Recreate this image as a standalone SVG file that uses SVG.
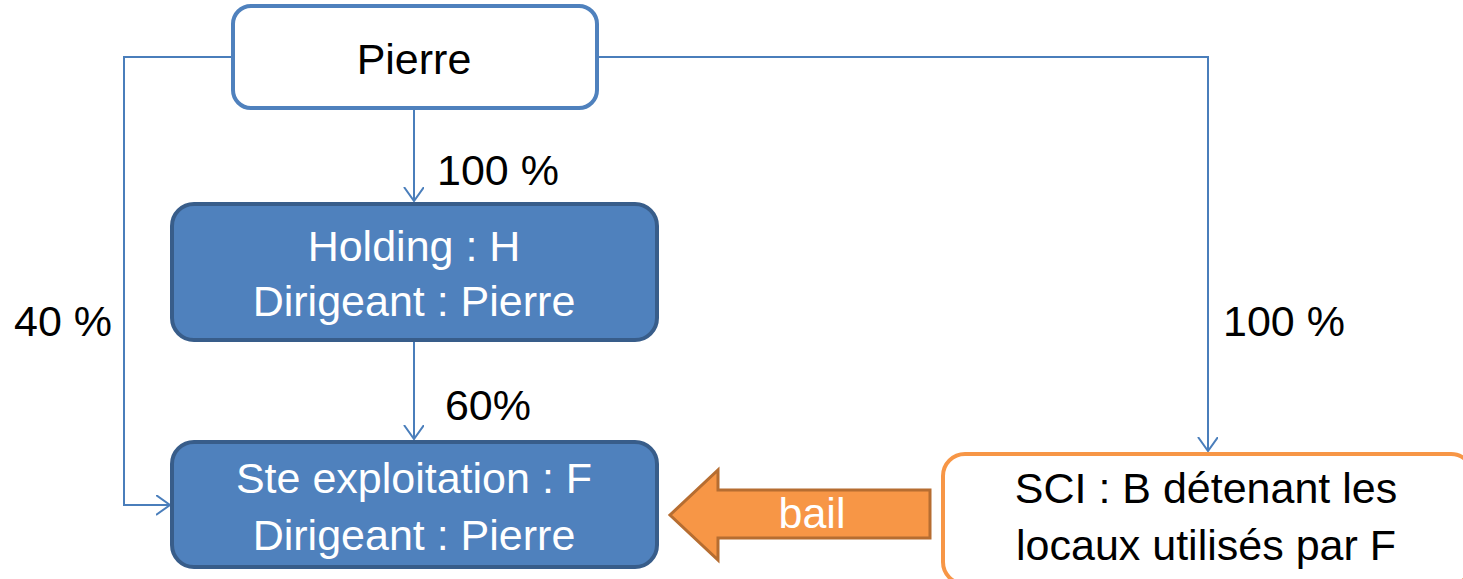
<svg xmlns="http://www.w3.org/2000/svg" width="1463" height="579" viewBox="0 0 1463 579">
<style>
text{font-family:"Liberation Sans",Arial,sans-serif;font-size:43px;text-anchor:middle}
.conn{fill:none;stroke:#4A7EBB;stroke-width:2}
.blue{fill:#4F81BD;stroke:#385D8A;stroke-width:4}
.white{fill:#FFFFFF;stroke:#4F81BD;stroke-width:4}
.orange{fill:#FFFFFF;stroke:#F79646;stroke-width:4}
.lbl{fill:#000000}
.wt{fill:#FFFFFF}
</style>
<defs>
<marker id="arr" markerUnits="userSpaceOnUse" markerWidth="24" markerHeight="24" refX="14" refY="10" orient="auto" viewBox="0 0 24 24">
<path d="M0,0 L14,10 L0,20" fill="none" stroke="#4A7EBB" stroke-width="2"/>
</marker>
</defs>
<rect width="1463" height="579" fill="#FFFFFF"/>
<g id="connectors">
<path class="conn" d="M233,57 H124 V505 H170" marker-end="url(#arr)"/>
<path class="conn" d="M414,108 V201" marker-end="url(#arr)"/>
<path class="conn" d="M414,340 V439" marker-end="url(#arr)"/>
<path class="conn" d="M597,57 H1208 V451" marker-end="url(#arr)"/>
<text class="lbl" x="498" y="185">100 %</text>
<text class="lbl" x="488" y="420">60%</text>
<text class="lbl" x="63" y="336">40 %</text>
<text class="lbl" x="1284" y="336">100 %</text>
</g>
<g id="pierre">
<rect class="white" x="233" y="6" width="364" height="102" rx="18"/>
<text class="lbl" x="414" y="74">Pierre</text>
</g>
<g id="holding">
<rect class="blue" x="172" y="204" width="485" height="136" rx="22"/>
<text class="wt" x="414" y="261">Holding : H</text>
<text class="wt" x="414" y="316">Dirigeant : Pierre</text>
</g>
<g id="exploitation">
<rect class="blue" x="172" y="442" width="485" height="125" rx="22"/>
<text class="wt" x="414" y="493">Ste exploitation : F</text>
<text class="wt" x="414" y="550">Dirigeant : Pierre</text>
</g>
<g id="sci">
<rect class="orange" x="943" y="454" width="530" height="130" rx="22"/>
<text class="lbl" x="1206" y="503">SCI : B détenant les</text>
<text class="lbl" x="1206" y="560">locaux utilisés par F</text>
</g>
<g id="bail">
<path d="M930,490 H718 V470 L670,515 L718,560 V538 H930 Z" fill="#F79646" stroke="#B66D31" stroke-width="3" stroke-linejoin="miter"/>
<text class="wt" x="812" y="528">bail</text>
</g>
</svg>
